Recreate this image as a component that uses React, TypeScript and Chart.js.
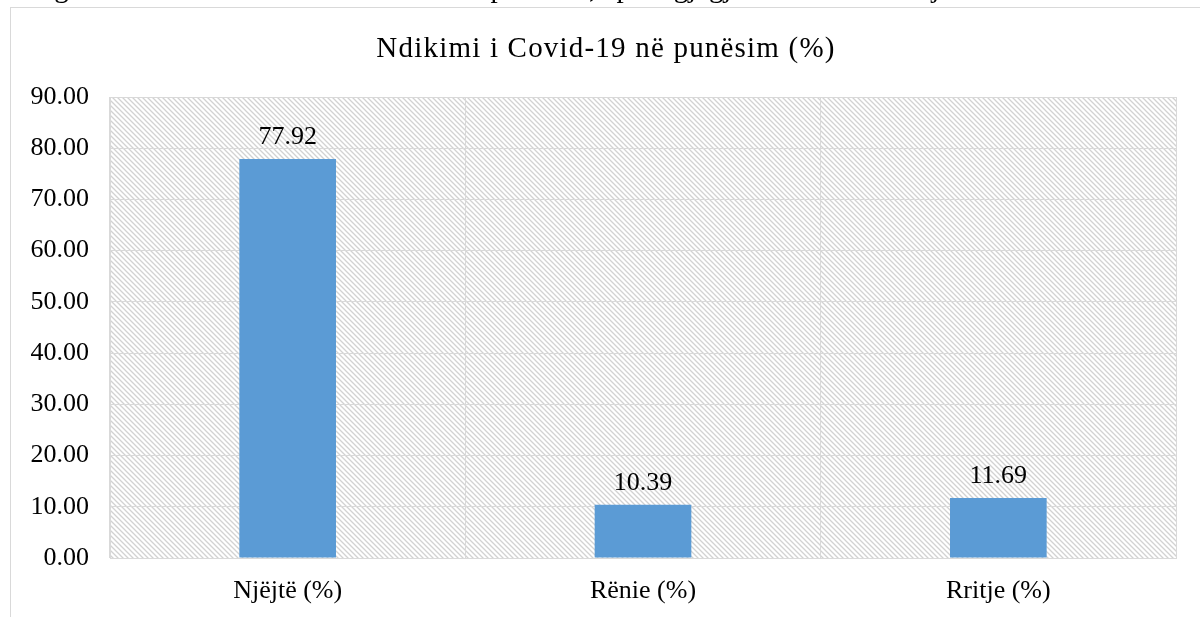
import React, { useEffect, useRef } from "react";
import { Chart, registerables } from "chart.js";

Chart.register(...registerables);

const categories: string[] = ["Njëjtë (%)", "Rënie (%)", "Rritje (%)"];
const values: number[] = [77.92, 10.39, 11.69];
const yTicks: number[] = [0, 10, 20, 30, 40, 50, 60, 70, 80, 90];
const chartTitle = "Ndikimi i Covid-19 në punësim (%)";
const captionText =
  "Figura 5. Ndikimi i Covid-19 në punësim, për gjegjësit e ndërmarrjeve të intervistuara";

const FONT = "'Liberation Serif', 'Times New Roman', serif";

function makeHatch(): CanvasPattern | string {
  const c = document.createElement("canvas");
  const p = 5;
  c.width = p;
  c.height = p;
  const g = c.getContext("2d");
  if (!g) return "#fff";
  g.fillStyle = "#ffffff";
  g.fillRect(0, 0, p, p);
  g.strokeStyle = "#d2d2d2";
  g.lineWidth = 1.3;
  g.beginPath();
  g.moveTo(-1, -1);
  g.lineTo(p + 1, p + 1);
  g.moveTo(-1, p - 1);
  g.lineTo(1, p + 1);
  g.moveTo(p - 1, -1);
  g.lineTo(p + 1, 1);
  g.stroke();
  const pat = g.createPattern(c, "repeat");
  return pat || "#fff";
}

export default function App() {
  const ref = useRef<HTMLCanvasElement | null>(null);

  useEffect(() => {
    if (!ref.current) return;
    const hatch = makeHatch();

    const hatchPlugin = {
      id: "hatchBg",
      beforeDraw(chart: any) {
        const { ctx, chartArea } = chart;
        ctx.save();
        ctx.fillStyle = hatch;
        ctx.fillRect(
          chartArea.left,
          chartArea.top,
          chartArea.right - chartArea.left,
          chartArea.bottom - chartArea.top
        );
        ctx.restore();
      },
    };

    const textPlugin = {
      id: "texts",
      afterDatasetsDraw(chart: any) {
        const { ctx } = chart;
        const meta = chart.getDatasetMeta(0);
        ctx.save();
        ctx.fillStyle = "#000";
        ctx.font = `26px ${FONT}`;
        ctx.textAlign = "center";
        ctx.textBaseline = "alphabetic";
        meta.data.forEach((el: any, i: number) => {
          ctx.fillText(values[i].toFixed(2), el.x, el.y - 15);
        });
        ctx.restore();
      },
      afterDraw(chart: any) {
        const { ctx } = chart;
        ctx.save();
        (ctx as any).letterSpacing = "1.2px";
        ctx.fillStyle = "#000";
        ctx.font = `29px ${FONT}`;
        ctx.textAlign = "center";
        ctx.textBaseline = "alphabetic";
        ctx.fillText(chartTitle, 606, 56.5);
        ctx.restore();
      },
    };

    const chart = new Chart(ref.current, {
      type: "bar",
      data: {
        labels: categories,
        datasets: [
          {
            data: values,
            backgroundColor: "#5b9bd5",
            borderWidth: 0,
            categoryPercentage: 1,
            barPercentage: 0.272,
          },
        ],
      },
      options: {
        animation: false,
        responsive: false,
        maintainAspectRatio: false,
        layout: { padding: { left: 0, right: 24, top: 97, bottom: 0 } },
        plugins: {
          legend: { display: false },
          tooltip: { enabled: false },
          title: { display: false },
        },
        scales: {
          x: {
            grid: {
              color: "#d9d9d9",
              lineWidth: 1,
              drawTicks: false,
              offset: true,
            },
            border: { display: true, color: "#d9d9d9" },
            ticks: {
              color: "#000",
              font: { family: FONT, size: 26 },
              padding: 18,
            },
            afterFit(scale: any) {
              scale.height = 59;
            },
          },
          y: {
            min: 0,
            max: 90,
            afterBuildTicks(scale: any) {
              scale.ticks = yTicks.map((v) => ({ value: v }));
            },
            grid: { color: "#d9d9d9", lineWidth: 1, drawTicks: false },
            border: { display: true, color: "#d9d9d9" },
            ticks: {
              color: "#000",
              font: { family: FONT, size: 26 },
              padding: 21,
              callback: (v: any) => Number(v).toFixed(2),
            },
            afterFit(scale: any) {
              scale.width = 110;
            },
          },
        },
      },
      plugins: [hatchPlugin, textPlugin],
    });

    return () => chart.destroy();
  }, []);

  return (
    <div
      style={{
        position: "fixed",
        left: 0,
        top: 0,
        width: 1200,
        height: 617,
        overflow: "hidden",
        background: "#fff",
      }}
    >
      <div
        style={{
          position: "absolute",
          left: 10,
          top: 7,
          width: 1300,
          height: 700,
          borderLeft: "1px solid #d9d9d9",
          borderTop: "1px solid #d9d9d9",
        }}
      />
      <canvas
        ref={ref}
        width={1200}
        height={617}
        style={{ position: "absolute", left: 0, top: 0, width: 1200, height: 617 }}
      />
      <div
        style={{
          position: "absolute",
          left: 30,
          top: -27,
          fontFamily: FONT,
          fontSize: 29,
          lineHeight: "29px",
          whiteSpace: "nowrap",
          color: "#000",
          wordSpacing: 13,
        }}
      >
        {captionText}
      </div>
    </div>
  );
}
